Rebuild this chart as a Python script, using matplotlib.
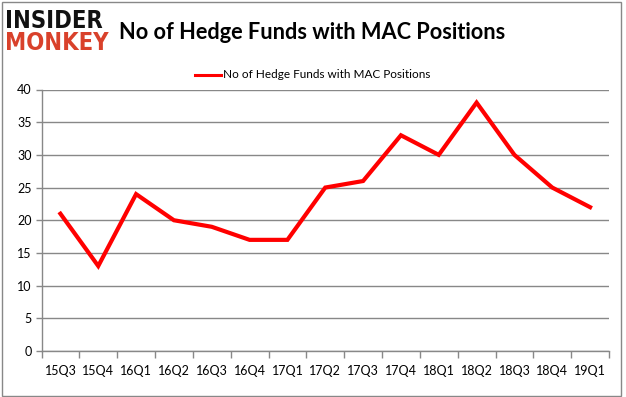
import matplotlib
matplotlib.use("Agg")
import matplotlib.pyplot as plt
from matplotlib.patches import Rectangle

categories = ["15Q3", "15Q4", "16Q1", "16Q2", "16Q3", "16Q4", "17Q1", "17Q2",
              "17Q3", "17Q4", "18Q1", "18Q2", "18Q3", "18Q4", "19Q1"]
values = [21, 13, 24, 20, 19, 17, 17, 25, 26, 33, 30, 38, 30, 25, 22]
yticks = [0, 5, 10, 15, 20, 25, 30, 35, 40]
title = "No of Hedge Funds with MAC Positions"
series_name = "No of Hedge Funds with MAC Positions"

W, H = 626, 397
fig = plt.figure(figsize=(W / 100, H / 100), dpi=100)
fig.patch.set_facecolor("white")

# outer border
fig.patches.append(Rectangle((1.5 / W, 1.5 / H), 619.5 / W, 393.5 / H,
                             transform=fig.transFigure, fill=False,
                             edgecolor="#888888", linewidth=1.0))

ax = fig.add_axes([41.5 / W, 1 - 351 / H, (609 - 41.5) / W, (351 - 89.5) / H])
x = [i + 0.5 for i in range(len(categories))]
ax.plot(x, values, color="#ff0000", linewidth=3.0, solid_joinstyle="miter",
        label=series_name, zorder=3)
ax.set_xlim(0, len(categories))
ax.set_ylim(0, 40)
ax.set_yticks(yticks)
ax.set_yticklabels([str(v) for v in yticks])
ax.set_xticks(x)
ax.set_xticklabels(categories)
ax.set_xticks(range(len(categories) + 1), minor=True)
ax.tick_params(axis="x", which="major", length=0, pad=10)
ax.tick_params(axis="x", which="minor", length=5, color="#888888", width=1)
ax.tick_params(axis="y", length=4, color="#888888", width=1, pad=3)
for lab in ax.get_xticklabels() + ax.get_yticklabels():
    lab.set_fontfamily("Lato")
    lab.set_fontsize(9)
ax.grid(axis="y", color="#888888", linewidth=1)
ax.set_axisbelow(True)
for s in ["top", "right"]:
    ax.spines[s].set_visible(False)
for s in ["left", "bottom"]:
    ax.spines[s].set_color("#888888")
    ax.spines[s].set_linewidth(1)

# title and logo
fig.text(119 / W, 1 - 39 / H, title, fontsize=15.7, fontweight="bold",
         fontfamily="Lato", ha="left", va="baseline", color="black")
fig.text(5 / W, 1 - 28 / H, "INSIDER", fontsize=17, fontweight="bold",
         fontstretch="condensed", fontfamily="DejaVu Sans",
         ha="left", va="baseline", color="#111111")
fig.text(5 / W, 1 - 50 / H, "MONKEY", fontsize=17, fontweight="bold",
         fontstretch="condensed", fontfamily="DejaVu Sans",
         ha="left", va="baseline", color="#d9412b")

# legend
fig.lines.append(plt.Line2D([195 / W, 221 / W], [1 - 75 / H, 1 - 75 / H],
                            transform=fig.transFigure, color="#ff0000", linewidth=2.2))
fig.text(223 / W, 1 - 75 / H, series_name, fontsize=8.5, fontfamily="Lato",
         ha="left", va="center", color="black")

fig.savefig("out.png", dpi=100)
